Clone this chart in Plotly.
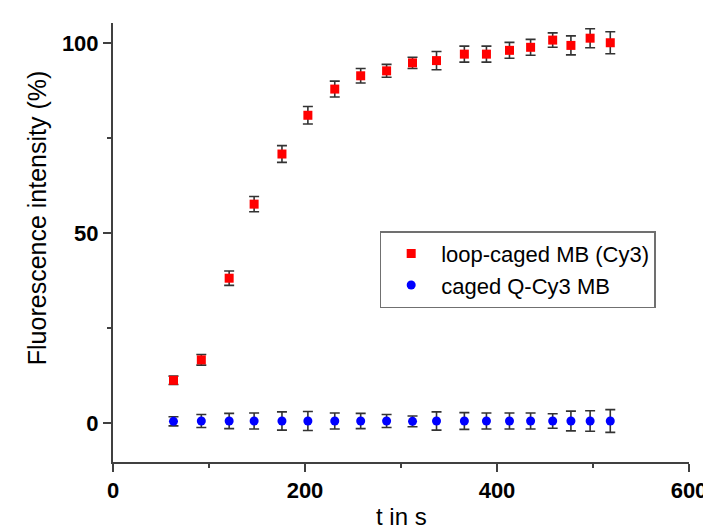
import plotly.graph_objects as go

time_s = [63, 92, 121, 147, 176, 203, 231, 258, 285, 312, 337, 366, 389, 413, 435, 458, 477, 497, 518]
loop_caged = [11.2, 16.6, 38.1, 57.6, 70.8, 81.0, 87.9, 91.4, 92.7, 94.8, 95.4, 97.1, 97.1, 98.1, 98.9, 100.8, 99.4, 101.3, 100.1]
loop_caged_err = [1.1, 1.4, 1.9, 2.0, 2.2, 2.3, 2.1, 1.9, 1.7, 1.5, 2.4, 2.1, 2.1, 2.1, 2.1, 1.9, 2.5, 2.5, 2.9]
caged_q = [0.4, 0.5, 0.5, 0.5, 0.5, 0.5, 0.5, 0.5, 0.5, 0.4, 0.5, 0.5, 0.5, 0.5, 0.5, 0.5, 0.5, 0.5, 0.5]
caged_q_err = [1.2, 1.7, 2.0, 2.1, 2.4, 2.5, 2.1, 2.0, 1.7, 1.4, 2.4, 2.2, 2.1, 2.1, 2.1, 1.9, 2.6, 2.7, 3.0]

FONT = "Arial, Liberation Sans, sans-serif"
AX = "#404040"

fig = go.Figure()
fig.add_trace(go.Scatter(
    x=time_s, y=loop_caged, mode="markers", name="loop-caged MB (Cy3)",
    marker=dict(symbol="square", size=9, color="#ff0000"),
    error_y=dict(type="data", array=loop_caged_err, visible=True, color="#333333", thickness=1.6, width=5),
))
fig.add_trace(go.Scatter(
    x=time_s, y=caged_q, mode="markers", name="caged Q-Cy3 MB",
    marker=dict(symbol="circle", size=9, color="#0000ff"),
    error_y=dict(type="data", array=caged_q_err, visible=True, color="#333333", thickness=1.6, width=5),
))

fig.update_layout(
    width=711, height=530,
    margin=dict(l=105, r=21, t=15, b=76),
    paper_bgcolor="white", plot_bgcolor="white",
    font=dict(family=FONT, color="black"),
    showlegend=True,
    legend=dict(
        x=0.463, y=0.526, xanchor="left", yanchor="top",
        bordercolor="#707070", borderwidth=1.5, bgcolor="white",
        font=dict(family=FONT, size=22, color="black"),
        itemsizing="trace", itemwidth=50,
    ),
)
fig.update_xaxes(
    range=[0, 600], tick0=0, dtick=200, showgrid=False, zeroline=False,
    showline=True, linecolor=AX, linewidth=2, mirror=False,
    ticks="outside", ticklen=8, tickwidth=2, tickcolor=AX,
    tickfont=dict(family=FONT, size=22, color="black", weight="bold"),
    minor=dict(dtick=100, ticks="outside", ticklen=4, tickwidth=2, tickcolor=AX, showgrid=False),
)
fig.update_yaxes(
    range=[-10.3, 105.3], tick0=0, dtick=50, showgrid=False, zeroline=False,
    showline=True, linecolor=AX, linewidth=2, mirror=False,
    ticks="outside", ticklen=8, tickwidth=2, tickcolor=AX,
    tickfont=dict(family=FONT, size=22, color="black", weight="bold"),
    minor=dict(dtick=25, ticks="outside", ticklen=4, tickwidth=2, tickcolor=AX, showgrid=False),
)
fig.add_annotation(
    text="t in s", xref="paper", yref="paper", x=0.5, y=-0.125,
    xanchor="center", yanchor="middle", showarrow=False,
    font=dict(family=FONT, size=24, color="black"),
)
fig.add_annotation(
    text="Fluorescence intensity (%)", xref="paper", yref="paper", x=-0.1316, y=0.5558,
    xanchor="center", yanchor="middle", showarrow=False, textangle=-90,
    font=dict(family=FONT, size=25, color="black"),
)

fig.write_html("out.html")
